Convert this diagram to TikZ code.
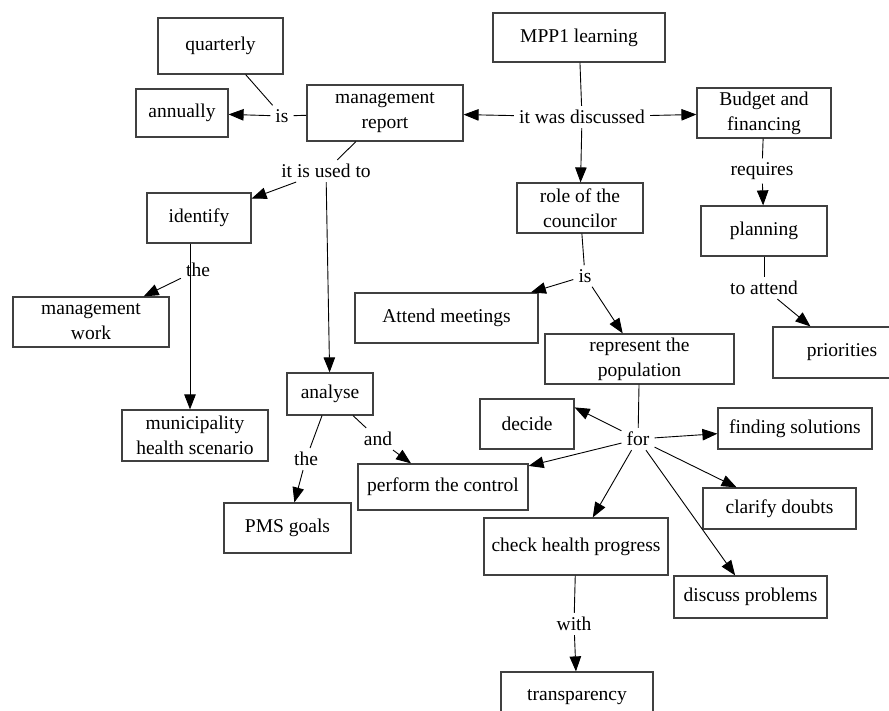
\documentclass[tikz,border=0pt]{standalone}
\usepackage{fontspec}
\setmainfont{Liberation Serif}
\usetikzlibrary{arrows.meta}
\begin{document}
\begin{tikzpicture}[x=1pt,y=-1pt,
  concept/.style={draw=black!75, line width=1.2pt, inner sep=0pt, align=center,
    font=\fontsize{19.5}{25}\selectfont},
  linkword/.style={inner xsep=5pt, inner ysep=4pt, font=\fontsize{19.5}{25}\selectfont},
  link/.style={line width=0.9pt},
  arrowlink/.style={line width=0.9pt, -{Triangle[length=15pt,width=11.5pt]}}]
\useasboundingbox (0,0) rectangle (889,711);
\clip (0,0) rectangle (889,711);

% concepts
\node[concept, minimum width=125pt, minimum height=56pt] (quarterly) at (220.5,46) {quarterly};
\node[concept, minimum width=92pt, minimum height=48pt] (annually) at (182,113) {annually};
\node[concept, minimum width=156pt, minimum height=56pt] (report) at (385,113) {management\\report};
\node[concept, minimum width=172pt, minimum height=49pt] (mpp) at (579,37.5) {MPP1 learning};
\node[concept, minimum width=134pt, minimum height=50pt] (budget) at (764,113) {Budget and\\financing};
\node[concept, minimum width=126pt, minimum height=50pt] (role) at (580,208) {role of the\\councilor};
\node[concept, minimum width=126pt, minimum height=50pt] (planning) at (764,231) {planning};
\node[concept, minimum width=104pt, minimum height=50pt] (identify) at (199,218) {identify};
\node[concept, minimum width=156pt, minimum height=50pt] (mwork) at (91,322) {management\\work};
\node[concept, minimum width=146pt, minimum height=51pt] (scenario) at (195,435.5) {municipality\\health scenario};
\node[concept, minimum width=86pt, minimum height=42pt] (analyse) at (330,394) {analyse};
\node[concept, minimum width=183pt, minimum height=50pt] (meetings) at (446.5,318) {Attend meetings};
\node[concept, minimum width=189pt, minimum height=50pt] (represent) at (639.5,359) {represent the\\population};
\node[concept, minimum width=138pt, minimum height=51pt] (priorities) at (842,352.5) {priorities};
\node[concept, minimum width=94pt, minimum height=50pt] (decide) at (527,424) {decide};
\node[concept, minimum width=154pt, minimum height=41pt] (solutions) at (795,428.5) {finding solutions};
\node[concept, minimum width=170pt, minimum height=46pt] (control) at (443,487) {perform the control};
\node[concept, minimum width=153pt, minimum height=41pt] (doubts) at (779.5,508.5) {clarify doubts};
\node[concept, minimum width=127pt, minimum height=50pt] (pms) at (287.5,528) {PMS goals};
\node[concept, minimum width=184pt, minimum height=57pt] (check) at (576,546.5) {check health progress};
\node[concept, minimum width=153pt, minimum height=42pt] (problems) at (750.5,597) {discuss problems};
\node[concept, minimum width=152pt, minimum height=50pt] (transparency) at (577,697) {transparency};

% linking words
\node[linkword] (isA) at (282,116) {is};
\node[linkword] (used) at (326,171) {it is used to};
\node[linkword] (discussed) at (582,117) {it was discussed};
\node[linkword] (requires) at (762,171) {requires};
\node[linkword] (theA) at (198,270) {the};
\node[linkword] (isB) at (585,276) {is};
\node[linkword] (attend) at (764,288) {to attend};
\node[linkword] (theB) at (306,459) {the};
\node[linkword] (and) at (378,439) {and};
\node[linkword] (for) at (638,439) {for};
\node[linkword] (with) at (574,624) {with};

% connectors
\draw[link] (report) -- (isA);
\draw[link] (quarterly) -- (isA);
\draw[arrowlink] (isA) -- (annually);
\draw[link] (report) -- (used);
\draw[arrowlink] (used) -- (identify);
\draw[arrowlink] (used) -- (analyse);

\draw[link] (mpp) -- (discussed);
\draw[arrowlink] (discussed) -- (report);
\draw[arrowlink] (discussed) -- (budget);
\draw[arrowlink] (discussed) -- (role);

\draw[link] (budget) -- (requires);
\draw[arrowlink] (requires) -- (planning);
\draw[link] (planning) -- (attend);
\draw[arrowlink] (attend) -- (priorities);

\draw[arrowlink] ([xshift=-9pt]identify.south) -- ([xshift=-5pt]scenario.north);
\draw[arrowlink] (theA) -- (mwork);

\draw[link] (analyse) -- (theB);
\draw[arrowlink] (theB) -- (pms);
\draw[link] (analyse) -- (and);
\draw[arrowlink] (and) -- (control);

\draw[link] (role) -- (isB);
\draw[arrowlink] (isB) -- (meetings);
\draw[arrowlink] (isB) -- (represent);

\draw[link] (represent) -- (for);
\draw[arrowlink] (for) -- ([yshift=-9pt]decide.north east);
\draw[arrowlink] (for) -- (solutions);
\draw[arrowlink] (for) -- (control);
\draw[arrowlink] (for) -- (doubts);
\draw[arrowlink] (for) -- (check);
\draw[arrowlink] (for) -- (problems);

\draw[link] (check) -- (with);
\draw[arrowlink] (with) -- (transparency);
\end{tikzpicture}
\end{document}
